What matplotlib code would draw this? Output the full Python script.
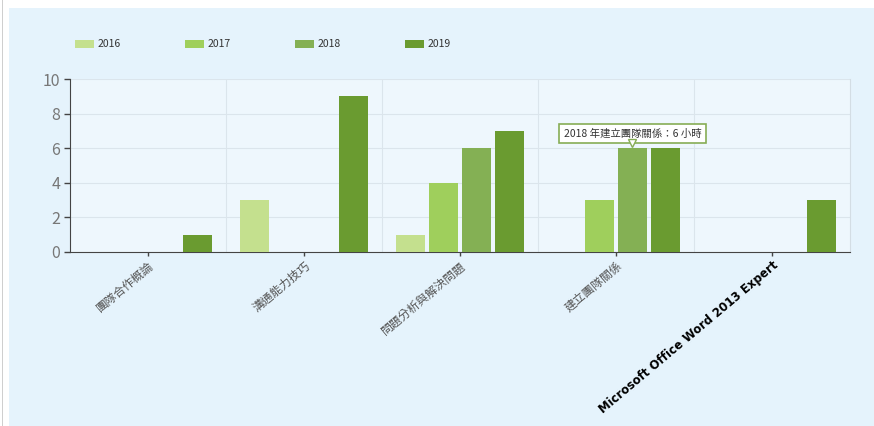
import numpy as np
import matplotlib
matplotlib.use("Agg")
import matplotlib.pyplot as plt
from matplotlib.patches import Rectangle

plt.rcParams['font.family'] = ['Noto Sans CJK TC', 'DejaVu Sans']

categories = ["團隊合作概論", "溝通能力技巧", "問題分析與解決問題", "建立團隊關係",
              "Microsoft Office Word 2013 Expert"]
years = ["2016", "2017", "2018", "2019"]
hours_2016 = [0, 3, 1, 0, 0]
hours_2017 = [0, 0, 4, 3, 0]
hours_2018 = [0, 0, 6, 6, 0]
hours_2019 = [1, 9, 7, 6, 3]
series = [hours_2016, hours_2017, hours_2018, hours_2019]
colors = ["#c4e08e", "#9fcf5c", "#84b054", "#6a9b30"]

W, H = 874, 426
fig = plt.figure(figsize=(W / 100, H / 100), dpi=100, facecolor="white")

# page panel (behind everything)
fig.patches.append(Rectangle((9 / W, 0), 1 - 9 / W, 1 - 8 / H, transform=fig.transFigure,
                             facecolor="#e5f3fc", edgecolor="none", zorder=-10))
fig.patches.append(Rectangle((1.5 / W, 0), 1.5 / W, 1, transform=fig.transFigure,
                             facecolor="#cfcfcf", edgecolor="none", zorder=-10))

ax = fig.add_axes([70 / W, (H - 252) / H, 780 / W, 173 / H])
ax.set_zorder(1)
ax.set_facecolor("#eef7fd")

x = np.arange(len(categories))
step = 0.2115
width = 0.18
for i, (vals, col) in enumerate(zip(series, colors)):
    ax.bar(x + (i - 1.5) * step, vals, width=width, color=col, zorder=3)

ax.set_xlim(-0.5, len(categories) - 0.5)
ax.set_ylim(0, 10)
ax.set_yticks(range(0, 11, 2))
ax.tick_params(axis="y", colors="#444444", labelcolor="#777777", labelsize=11.5,
               length=4, width=1, pad=3)
ax.set_xticks(x)
ax.tick_params(axis="x", colors="#444444", length=3, width=1, pad=2)
ax.set_xticklabels(categories, rotation=40, ha="right", rotation_mode="anchor")
for lbl in ax.get_xticklabels():
    if lbl.get_text().startswith("Microsoft"):
        lbl.set_fontsize(8.5)
        lbl.set_fontweight("bold")
        lbl.set_fontfamily("DejaVu Sans")
        lbl.set_color("black")
    else:
        lbl.set_fontsize(8.5)
        lbl.set_color("#555555")

# grid
for yv in range(2, 11, 2):
    ax.axhline(yv, color="#dbe5ec", lw=0.8, zorder=1)
for xv in np.arange(0.5, len(categories) - 0.5, 1):
    ax.axvline(xv, color="#dbe5ec", lw=0.8, zorder=1)

ax.spines["top"].set_visible(False)
ax.spines["right"].set_color("#d3dde4")
ax.spines["right"].set_linewidth(0.8)
ax.spines["left"].set_color("#444444")
ax.spines["bottom"].set_color("#444444")

# legend
leg_x = [75, 185, 295, 405]
for lx, yr, col in zip(leg_x, years, colors):
    fig.patches.append(Rectangle((lx / W, (H - 48) / H), 19 / W, 8 / H,
                                 transform=fig.transFigure, facecolor=col,
                                 edgecolor="none"))
    fig.text((lx + 23) / W, (H - 44) / H, yr, fontsize=7.5, color="#333333",
             va="center", ha="left")

# tooltip
tip_x = 3 + 0.5 * step
ax.annotate("2018 年建立團隊關係：6 小時", xy=(tip_x, 6.0), xytext=(tip_x, 6.85),
            ha="center", va="center", fontsize=7.5, color="#333333", zorder=6,
            bbox=dict(boxstyle="square,pad=0.45", facecolor="white",
                      edgecolor="#86ad55", lw=1.2),
            annotation_clip=False)
ax.plot([tip_x], [6.28], marker="v", markersize=6, color="white",
        markeredgecolor="#86ad55", markeredgewidth=1.0, zorder=7, clip_on=False)

fig.savefig("out.png", dpi=100, facecolor="white")
